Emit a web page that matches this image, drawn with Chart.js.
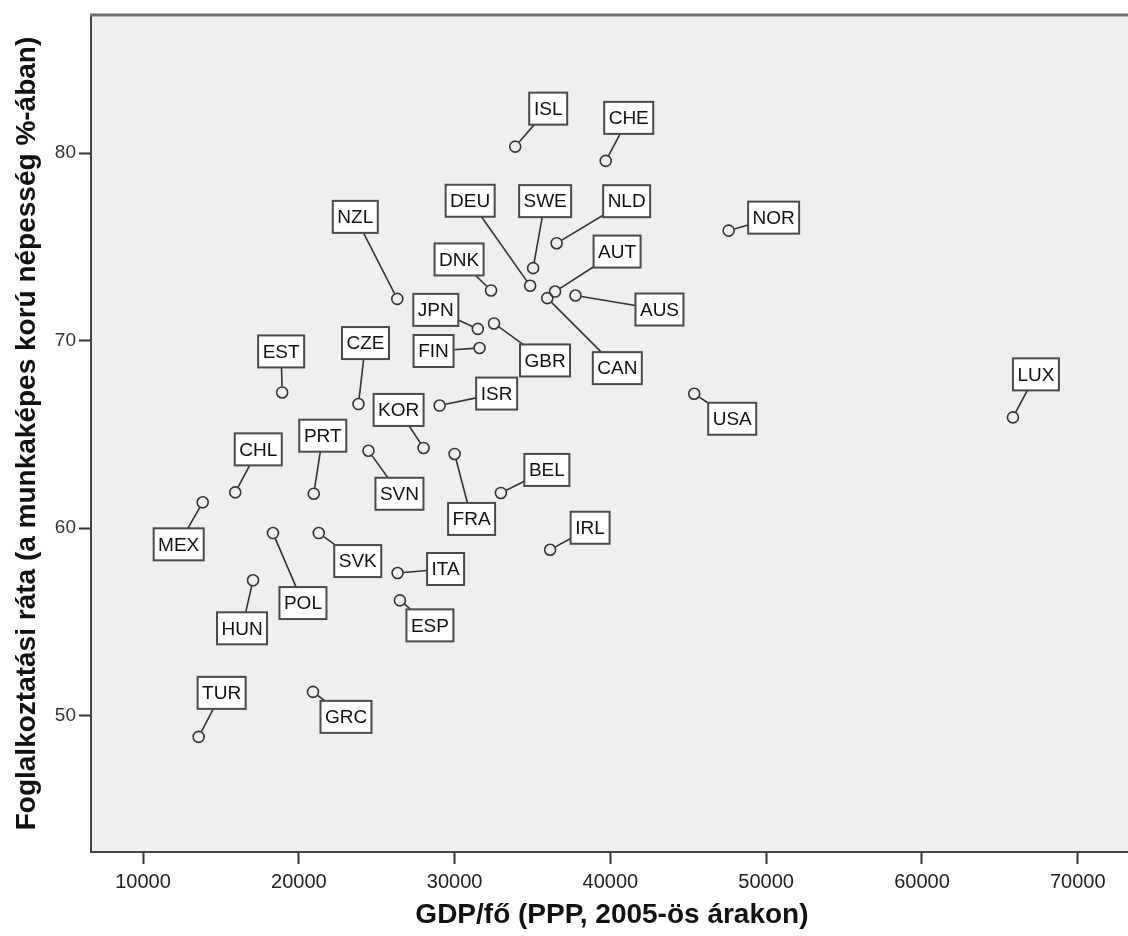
<!DOCTYPE html>
<html><head><meta charset="utf-8">
<script src="https://cdn.jsdelivr.net/npm/chart.js@4/dist/chart.umd.min.js"></script>
<style>html,body{margin:0;padding:0;background:#fff;overflow:hidden;width:1128px;height:936px}canvas{display:block}</style>
</head><body>
<canvas id="c" width="1140" height="936" style="width:1140px;height:936px"></canvas>
<script>
const countries = ['ISL','CHE','NZL','DEU','SWE','NLD','DNK','AUT','CAN','AUS','JPN','GBR','FIN','NOR','EST','CZE','ISR','USA','LUX','KOR','SVN','FRA','CHL','PRT','BEL','MEX','POL','SVK','IRL','ITA','HUN','ESP','GRC','TUR'];
const gdpPerCapita = [33890,39700,26320,34850,35040,36550,32340,36450,35950,37760,31490,32530,31600,47590,18930,23830,29040,45380,65840,28010,24470,30000,15920,20960,32970,13830,18340,21280,36130,26340,17060,26490,20910,13570];
const employmentRate = [80.35,79.59,72.23,72.93,73.87,75.20,72.68,72.62,72.27,72.41,70.63,70.92,69.61,75.87,67.24,66.62,66.54,67.17,65.91,64.28,64.13,63.96,61.91,61.84,61.88,61.38,59.74,59.74,58.85,57.61,57.22,56.15,51.27,48.87];
const xTickValues = [10000,20000,30000,40000,50000,60000,70000];
const yTickValues = [50,60,70,80];
const xAxisTitle = 'GDP/fő (PPP, 2005-ös árakon)';
const yAxisTitle = 'Foglalkoztatási ráta (a munkaképes korú népesség %-ában)';
// label box placement relative to each point (pixels)
const labelOffsets = [[33,-38],[23,-43],[-42,-82],[-60,-85],[12,-67],[70,-42],[-32,-31],[62,-40],[70,70],[84,14],[-42,-19],[51,37],[-46,3],[45,-13],[-1,-41],[7,-61],[57,-12],[38,25],[23,-43],[-25,-38],[31,43],[17,65],[23,-43],[9,-58],[46,-23],[-24,42],[30,70],[39,28],[40,-22],[48,-4],[-11,48],[30,25],[33,25],[23,-44]];

const FAM = '"Liberation Sans", Arial, sans-serif';
const PT_R = 5.5;

const bgPlugin = {
  id: 'bg',
  beforeDraw(chart) {
    const {ctx, chartArea: a} = chart;
    ctx.save();
    ctx.fillStyle = '#efefef';
    ctx.fillRect(a.left, a.top, a.right - a.left, a.bottom - a.top);
    ctx.restore();
  },
  afterDraw(chart) {
    const {ctx, chartArea: a} = chart;
    ctx.save();
    ctx.strokeStyle = '#707070';
    ctx.lineWidth = 3;
    ctx.beginPath();
    ctx.moveTo(a.left - 1, a.top);
    ctx.lineTo(a.right + 2, a.top);
    ctx.stroke();
    ctx.restore();
  }
};

const labelPlugin = {
  id: 'labels',
  afterDatasetsDraw(chart) {
    const ctx = chart.ctx;
    const meta = chart.getDatasetMeta(0);
    ctx.save();
    ctx.font = '19px ' + FAM;
    ctx.textAlign = 'center';
    ctx.textBaseline = 'middle';
    meta.data.forEach((pt, i) => {
      const px = pt.x, py = pt.y;
      const [dx, dy] = labelOffsets[i];
      const cx = px + dx, cy = py + dy;
      const w = Math.round(ctx.measureText(countries[i]).width) + 9, h = 32;
      const l = cx - w / 2, t = cy - h / 2;
      // leader line: from point toward box centre, ending on the box edge
      const s = Math.min(dx !== 0 ? (w / 2) / Math.abs(dx) : Infinity, dy !== 0 ? (h / 2) / Math.abs(dy) : Infinity);
      const ex = cx - dx * s, ey = cy - dy * s;
      const vx = ex - px, vy = ey - py, d = Math.hypot(vx, vy);
      if (s < 1 && d > PT_R + 1) {
        ctx.strokeStyle = '#333';
        ctx.lineWidth = 1.6;
        ctx.beginPath();
        ctx.moveTo(px + vx / d * (PT_R + 0.5), py + vy / d * (PT_R + 0.5));
        ctx.lineTo(ex, ey);
        ctx.stroke();
      }
      ctx.fillStyle = '#ffffff';
      ctx.fillRect(l, t, w, h);
      ctx.strokeStyle = '#4a4a4a';
      ctx.lineWidth = 2;
      ctx.strokeRect(l, t, w, h);
      ctx.fillStyle = '#111';
      ctx.fillText(countries[i], cx, cy + 1);
    });
    ctx.restore();
  }
};

new Chart(document.getElementById('c').getContext('2d'), {
  type: 'scatter',
  data: {
    datasets: [{
      data: gdpPerCapita.map((x, i) => ({x: x, y: employmentRate[i]})),
      pointRadius: PT_R,
      pointHoverRadius: PT_R,
      pointBorderWidth: 1.6,
      pointBorderColor: '#333',
      pointBackgroundColor: 'rgba(0,0,0,0)'
    }]
  },
  options: {
    responsive: false,
    devicePixelRatio: 1,
    animation: false,
    events: [],
    layout: {padding: {top: 15, right: 1, left: 0, bottom: 0}},
    plugins: {legend: {display: false}, tooltip: {enabled: false}},
    scales: {
      x: {
        type: 'linear',
        min: 6660,
        max: 73540,
        afterBuildTicks(s) { s.ticks = xTickValues.map(v => ({value: v})); },
        afterFit(s) { s.height = 84; },
        grid: {drawOnChartArea: false, drawTicks: true, tickLength: 12, tickWidth: 2, tickColor: '#333'},
        border: {display: true, color: '#444', width: 2},
        ticks: {padding: 6, color: '#222', font: {family: FAM, size: 20}, maxRotation: 0, autoSkip: false, callback: v => String(v)},
        title: {display: true, text: xAxisTitle, color: '#111', font: {family: FAM, size: 28, weight: 'bold'}, padding: {top: 0, bottom: 4}}
      },
      y: {
        type: 'linear',
        min: 42.73,
        max: 87.37,
        afterBuildTicks(s) { s.ticks = yTickValues.map(v => ({value: v})); },
        afterFit(s) { s.width = 91; },
        grid: {drawOnChartArea: false, drawTicks: true, tickLength: 12, tickWidth: 2, tickColor: '#333'},
        border: {display: true, color: '#444', width: 2},
        ticks: {padding: 3, color: '#333', font: {family: FAM, size: 19}, autoSkip: false, callback: v => String(v)},
        title: {display: true, text: yAxisTitle, color: '#111', font: {family: FAM, size: 28, weight: 'bold'}, padding: {top: 10, bottom: 0}}
      }
    }
  },
  plugins: [bgPlugin, labelPlugin]
});
</script>
</body></html>
